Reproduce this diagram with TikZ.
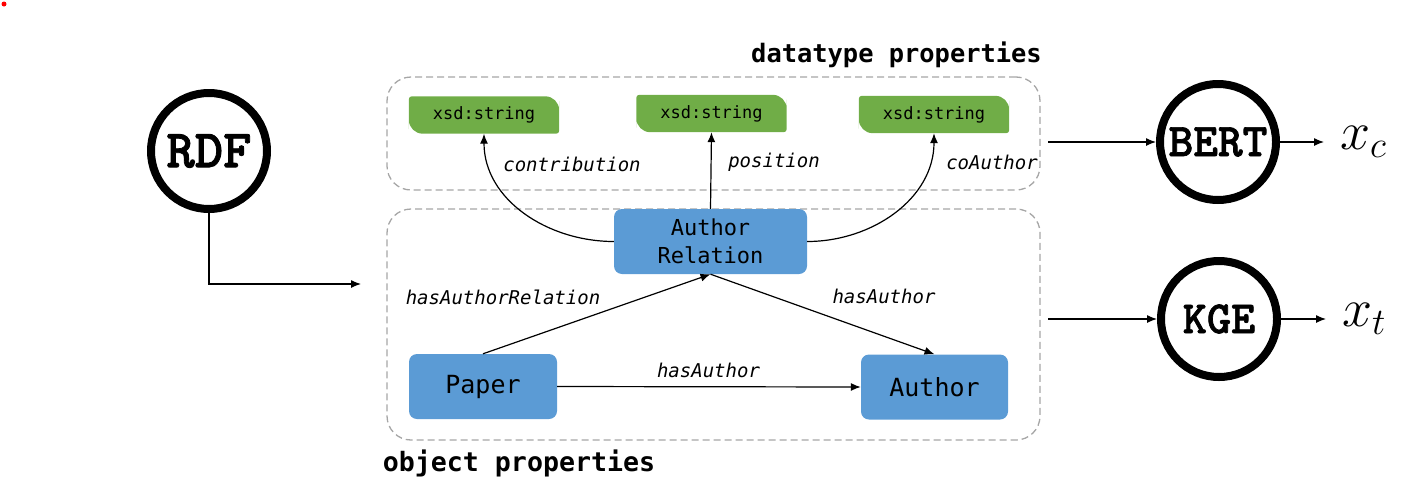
\documentclass[tikz,border=0pt]{standalone}
\usepackage{fontspec}
\setmonofont{DejaVu Sans Mono}
\newfontface\modelfont{lmmonolt10-bold.otf}[FakeBold=1.5]
\usetikzlibrary{arrows.meta,positioning,backgrounds}
\definecolor{conceptblue}{RGB}{91,155,213}
\definecolor{literalgreen}{RGB}{112,173,71}
\definecolor{groupline}{RGB}{166,166,166}

\tikzset{
  group/.style={draw=groupline, dash pattern=on 7pt off 4pt, line width=1.3pt,
    rounded corners=24pt, minimum width=653pt, inner sep=0pt},
  concept/.style={fill=conceptblue, rounded corners=8pt, minimum height=65pt,
    inner sep=0pt, align=center, font=\ttfamily\fontsize{25}{28}\selectfont},
  literal/.style={minimum width=150pt, minimum height=37pt, inner sep=0pt,
    font=\ttfamily\fontsize{17}{20}\selectfont},
  model/.style={circle, draw, line width=8pt, minimum size=116pt, inner sep=0pt},
  prop/.style={font=\ttfamily\itshape\fontsize{19}{22}\selectfont},
  grouptitle/.style={font=\ttfamily\bfseries\fontsize{25}{28}\selectfont},
  link/.style={-{Latex[length=10pt,width=8pt]}, line width=1.2pt},
  output/.style={anchor=west, inner sep=0pt, inner xsep=6pt, font=\huge, scale=2.6, transform shape},
}

\begin{document}
\begin{tikzpicture}[x=1pt, y=-1pt]
  \useasboundingbox (0,0) rectangle (1407,498);
  \fill[red] (4,4) circle (2.5pt);

  % groups
  \node[group, minimum height=113pt] (dbox) at (713.5,133.5) {};
  \node[group, minimum height=231pt] (obox) at (713.5,324.5) {};
  \node[grouptitle, font=\ttfamily\bfseries\fontsize{25.4}{28}\selectfont] (dtitle) at (896.5,55) {datatype properties};
  \node[grouptitle, font=\ttfamily\bfseries\fontsize{26.6}{28}\selectfont] (otitle) at (519,463) {object properties};

  % literals
  \node[literal] (s1) at (484,115) {xsd:string};
  \node[literal] (s2) at (711.5,113.5) {xsd:string};
  \node[literal] (s3) at (934,114.5) {xsd:string};
  \begin{scope}[on background layer]
    \foreach \s in {s1,s2,s3}
      \fill[literalgreen] (\s.north) [rounded corners=14pt] -- (\s.north east) -- (\s.east)
        [rounded corners=3pt] -- (\s.south east) -- (\s.south)
        [rounded corners=14pt] -- (\s.south west) -- (\s.west)
        [rounded corners=3pt] -- (\s.north west) -- cycle;
  \end{scope}

  % concepts
  \node[concept, minimum width=193pt, font=\ttfamily\fontsize{22}{28}\selectfont] (ar) at (710.5,241.5) {Author\\Relation};
  \node[concept, minimum width=148pt] (paper) at (483,386.5) {Paper};
  \node[concept, minimum width=147pt] (author) at (934.5,387) {Author};

  % models
  \node[model, font=\modelfont\fontsize{54}{56}\selectfont] (rdf) at (209,151) {RDF};
  \node[model, font=\modelfont\fontsize{47}{50}\selectfont] (bert) at (1218,142) {BERT};
  \node[model, font=\modelfont\fontsize{46}{48}\selectfont] (kge) at (1219,319) {KGE};
  \node[output] (xc) at (1324,142) {$x_c$};
  \node[output] (xt) at (1326,319) {$x_t$};

  \coordinate (rdfin) at (361,284);
  \coordinate (dout) at (1048,142);
  \coordinate (oout) at (1048,319);

  % properties
  \draw[link] (ar.west) to[out=180, in=-90] (s1.south);
  \draw[link] (ar.north) -- (s2.south);
  \draw[link] (ar.east) to[out=0, in=-90] (s3.south);
  \draw[link] (paper.north) -- (ar.south);
  \draw[link] (ar.south) -- (author.north);
  \draw[link] (paper.east) -- (author.west);

  \node[prop] (lcontrib) at (572,164) {contribution};
  \node[prop] (lpos) at (774,162) {position};
  \node[prop] (lco) at (992,162) {coAuthor};
  \node[prop] (lhasrel) at (503,297) {hasAuthorRelation};
  \node[prop] (lhas1) at (884,296) {hasAuthor};
  \node[prop] (lhas2) at (708.5,370) {hasAuthor};

  % flow
  \draw[link] (rdf.south) |- (rdfin);
  \draw[link] (dout) -- (bert.west);
  \draw[link] (oout) -- (kge.west);
  \draw[link] (bert.east) -- (xc.west);
  \draw[link] (kge.east) -- (xt.west);
\end{tikzpicture}
\end{document}
